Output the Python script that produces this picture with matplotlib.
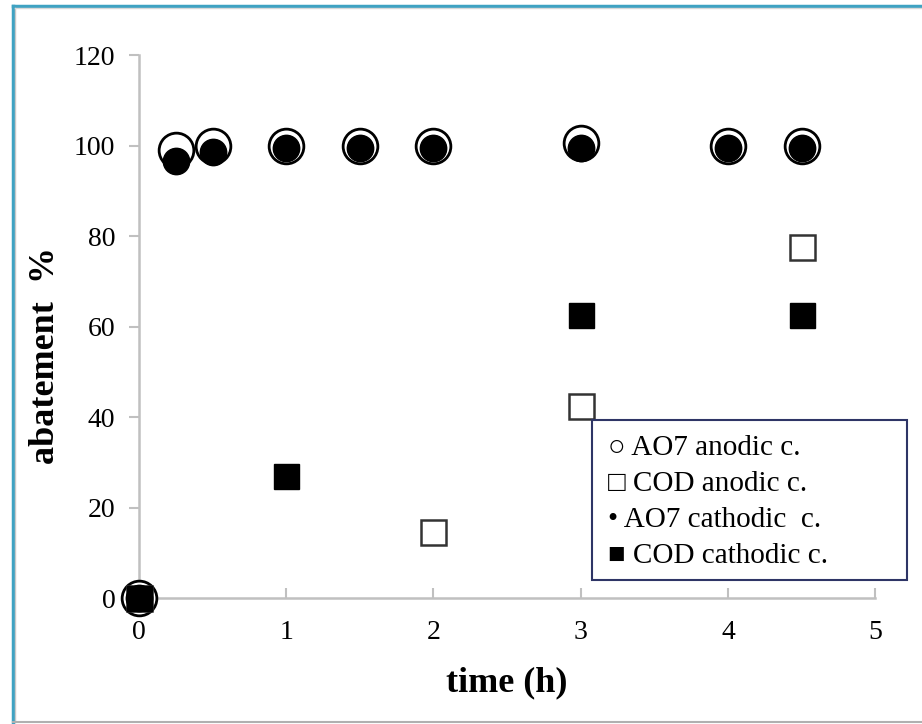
import matplotlib.pyplot as plt
from matplotlib.lines import Line2D
from matplotlib.patches import Rectangle

plt.rcParams['font.family'] = ['Liberation Serif', 'DejaVu Sans']

# data
ao7_anodic_t = [0, 0.25, 0.5, 1, 1.5, 2, 3, 4, 4.5]
ao7_anodic = [0, 99, 100, 100, 100, 100, 100.5, 100, 100]
ao7_cathodic_t = [0, 0.25, 0.5, 1, 1.5, 2, 3, 4, 4.5]
ao7_cathodic = [0, 96.5, 98.5, 99.5, 99.5, 99.5, 99.5, 99.5, 99.5]
cod_anodic_t = [0, 2, 3, 4.5]
cod_anodic = [0, 14.5, 42.5, 77.5]
cod_cathodic_t = [0, 1, 3, 4.5]
cod_cathodic = [0, 27, 62.5, 62.5]

legend_labels = ["\u25cb AO7 anodic c.", "\u25a1 COD anodic c.",
                 "\u2022 AO7 cathodic  c.", "\u25a0 COD cathodic c."]

W, H = 922, 724
fig = plt.figure(figsize=(W / 100, H / 100), dpi=100)
ax = fig.add_axes([0.1508, 0.174, 0.7984, 0.750])

ax.plot(ao7_anodic_t, ao7_anodic, 'o', ms=25, mfc='white', mec='black', mew=2, clip_on=False, zorder=3)
ax.plot(cod_anodic_t, cod_anodic, 's', ms=18, mfc='white', mec='#333333', mew=1.8, clip_on=False, zorder=3)
ax.plot(ao7_cathodic_t, ao7_cathodic, 'o', ms=19, mfc='black', mec='black', clip_on=False, zorder=4)
ax.plot(cod_cathodic_t, cod_cathodic, 's', ms=18, mfc='black', mec='black', clip_on=False, zorder=5)

ax.set_xlim(0, 5)
ax.set_ylim(0, 120)
ax.set_xticks(range(6))
ax.set_yticks(range(0, 121, 20))
for s in ['top', 'right']:
    ax.spines[s].set_visible(False)
for s in ['left', 'bottom']:
    ax.spines[s].set_color('#c0c0c0')
    ax.spines[s].set_linewidth(1.8)
ax.tick_params(axis='x', direction='in', length=7, color='#c0c0c0', width=1.5, labelsize=20, pad=16)
ax.tick_params(axis='y', direction='out', length=7, color='#c0c0c0', width=1.5, labelsize=20, pad=10)

ax.set_xlabel("time (h)", fontsize=26, fontweight='bold', labelpad=15)
ax.set_ylabel("abatement  %", fontsize=26, fontweight='bold')
ax.yaxis.set_label_coords(-0.105, 0.447)

# legend box drawn as text, like the original
fig.patches.append(Rectangle((592 / W, 1 - 580 / H), 315 / W, 160 / H,
                             transform=fig.transFigure, fill=True, fc='white',
                             ec='#2e3566', lw=1.5, zorder=10))
for i, lab in enumerate(legend_labels):
    fig.text(608 / W, 1 - (448 + 36 * i) / H, lab, fontsize=21,
             va='center', ha='left', zorder=11)

# outer frame: teal on top and left, grey line at the bottom
fig.lines.append(Line2D([13 / W, 13 / W], [0, 1 - 6 / H], transform=fig.transFigure, color='#3fa2c2', lw=2.5))
fig.lines.append(Line2D([13 / W, 1], [1 - 6 / H, 1 - 6 / H], transform=fig.transFigure, color='#3fa2c2', lw=2.5))
fig.lines.append(Line2D([15 / W, 15 / W], [2 / H, 1 - 8 / H], transform=fig.transFigure, color='#c8c8c8', lw=1))
fig.lines.append(Line2D([15 / W, 1], [1 - 8 / H, 1 - 8 / H], transform=fig.transFigure, color='#d8d8d8', lw=1))
fig.lines.append(Line2D([13 / W, 1], [2.5 / H, 2.5 / H], transform=fig.transFigure, color='#b0b0b0', lw=1.5))

plt.savefig("out.png", dpi=100)
